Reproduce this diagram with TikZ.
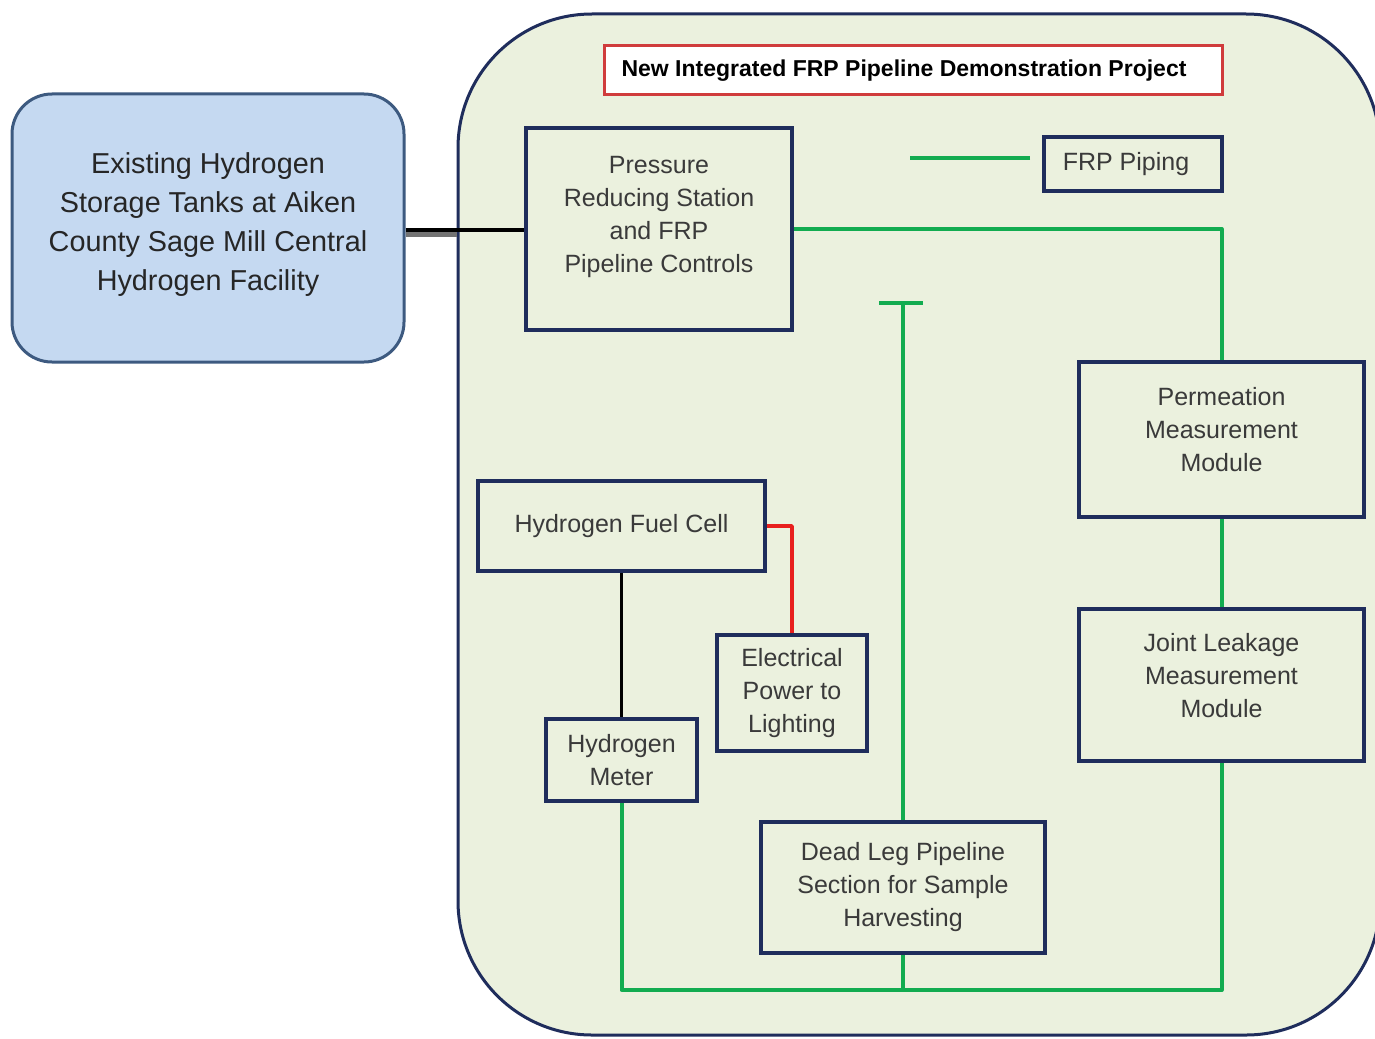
\documentclass[tikz,border=0pt]{standalone}
\usepackage{fontspec}
\setmainfont{Liberation Sans}
\definecolor{navy}{HTML}{1F2D5C}
\definecolor{pale}{HTML}{EBF1DE}
\definecolor{pipegreen}{HTML}{12AC50}
\definecolor{tankblue}{HTML}{C5D9F1}
\definecolor{tankedge}{HTML}{3D5A80}
\definecolor{txt}{HTML}{3A3A3A}
\definecolor{titlered}{HTML}{D03C3C}
\definecolor{wirered}{HTML}{E8201E}

\begin{document}
\begin{tikzpicture}[x=0.5pt,y=-0.5pt,
	box/.style={draw=navy,line width=1.8pt,fill=pale,inner sep=0pt,align=center,text=txt,font=\fontsize{12.5}{16.5}\selectfont},
	lbl/.style={align=center,text=txt,font=\fontsize{12.5}{16.5}\selectfont},
	pipe/.style={pipegreen,line width=2pt,line join=round}]

	\useasboundingbox (0,0) rectangle (1375,1038);
	\fill[white] (0,0) rectangle (1375,1038);

	\node[draw=navy,line width=1.5pt,fill=pale,rounded corners=67pt,minimum width=461pt,minimum height=510.5pt,name=AREA] at (919,524.5) {};

	\node[draw=tankedge,line width=1.5pt,fill=tankblue,rounded corners=20pt,minimum width=196pt,minimum height=134pt,name=EHS,label={[align=center,text=black!85,font=\fontsize{14.4}{19.5}\selectfont,yshift=1.5pt]center:Existing Hydrogen\\Storage Tanks at Aiken\\County Sage Mill Central\\Hydrogen Facility}] at (208,228) {};

	\node[draw=titlered,line width=1.5pt,fill=white,minimum width=309pt,minimum height=24.5pt,name=T,label={[font=\fontsize{11.5}{14}\selectfont\bfseries,xshift=-4.5pt]center:New Integrated FRP Pipeline Demonstration Project}] at (913,70.5) {};

	\node[box,minimum width=133pt,minimum height=101pt,name=PRS,label={[lbl,yshift=6pt]center:Pressure\\Reducing Station\\and FRP\\Pipeline Controls}] at (659,229) {};
	\node[box,minimum width=89pt,minimum height=27pt,name=FRP,label={[lbl,xshift=-3.5pt]center:FRP Piping}] at (1133,164) {};
	\node[box,minimum width=142.5pt,minimum height=77.5pt,name=PMM,label={[lbl,yshift=4.75pt]center:Permeation\\Measurement\\Module}] at (1221.5,439.5) {};
	\node[box,minimum width=142.5pt,minimum height=76pt,name=JLM,label={[lbl,yshift=4.5pt]center:Joint Leakage\\Measurement\\Module}] at (1221.5,685) {};
	\node[box,minimum width=142pt,minimum height=65.5pt,name=DLP] at (903,887.5) {Dead Leg Pipeline\\Section for Sample\\Harvesting};
	\node[box,minimum width=143.5pt,minimum height=45pt,name=HFC] at (621.5,526) {Hydrogen Fuel Cell};
	\node[box,minimum width=75.5pt,minimum height=41pt,name=HM] at (621.5,760) {Hydrogen\\Meter};
	\node[box,minimum width=75pt,minimum height=58pt,name=EPL] at (792,693) {Electrical\\Power to\\Lighting};

	\coordinate (G) at (903,990);
	\coordinate (TB) at (901,303);

	\draw[black!55,line width=2.5pt] ([yshift=-3pt]EHS.east) -- ([yshift=-3pt]EHS.east -| AREA.west);
	\draw[line width=1.6pt] ([yshift=-1pt]EHS.east) -- ([yshift=-1pt]EHS.east -| PRS.west);

	\draw[pipe] (PRS.east) -| (PMM.north);
	\draw[pipe] (PMM.south) -- (JLM.north);
	\draw[pipe] (JLM.south) |- (G) -| (HM.south);
	\draw[pipe] (DLP.south) -- (G);
	\draw[pipe] (DLP.north) -- (DLP.north |- TB);
	\draw[pipe] ([xshift=-11pt]TB) -- ([xshift=11pt]TB);
	\draw[pipe] ([xshift=-6pt,yshift=3pt]FRP.west) -- ++(-120,0);

	\draw[line width=1.5pt] (HFC.south) -- (HM.north);
	\draw[wirered,line width=1.8pt,line join=round] (HFC.east) -| (EPL.north);

\end{tikzpicture}
\end{document}
